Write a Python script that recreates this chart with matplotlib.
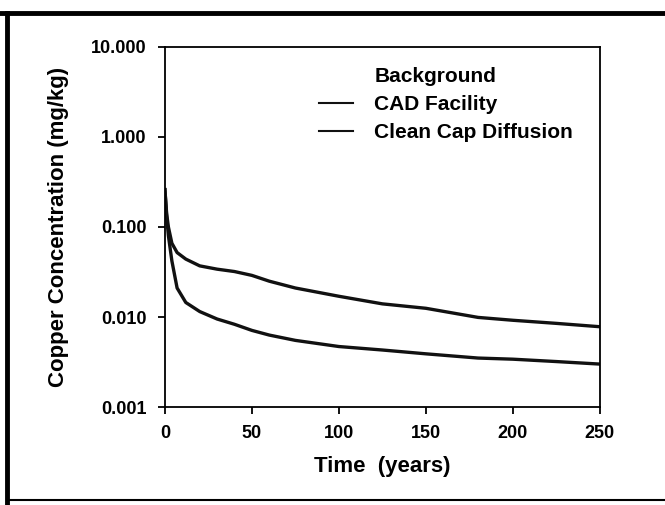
import matplotlib
matplotlib.use("Agg")
import matplotlib.pyplot as plt
from matplotlib.lines import Line2D
from matplotlib.ticker import FixedLocator, NullLocator, FormatStrFormatter

plt.rcParams['font.family'] = ['Liberation Sans', 'DejaVu Sans']

# values
years = [0, 1, 2, 4, 7, 12, 20, 30, 40, 50, 60, 75, 100, 125, 150, 180, 200, 225, 250]
cad_facility = [0.26, 0.14, 0.10, 0.066, 0.052, 0.044, 0.037, 0.034, 0.032, 0.029,
                0.025, 0.021, 0.017, 0.014, 0.0125, 0.0099, 0.0092, 0.0085, 0.0078]
clean_cap = [0.26, 0.13, 0.08, 0.042, 0.021, 0.0145, 0.0115, 0.0095, 0.0083, 0.0071,
             0.0063, 0.0055, 0.0047, 0.0043, 0.0039, 0.0035, 0.0034, 0.0032, 0.0030]
x_ticks = [0, 50, 100, 150, 200, 250]
y_ticks = [0.001, 0.01, 0.1, 1, 10]
legend_labels = ['Background', 'CAD Facility', 'Clean Cap Diffusion']

fig = plt.figure(figsize=(6.65, 5.05), dpi=100)
ax = fig.add_axes([0.248, 0.194, 0.654, 0.713])

ax.plot(years, cad_facility, color='#111111', lw=2.4)
ax.plot(years, clean_cap, color='#111111', lw=2.4)

ax.set_yscale('log')
ax.set_ylim(0.001, 10)
ax.set_xlim(0, 250)
ax.yaxis.set_major_locator(FixedLocator(y_ticks))
ax.yaxis.set_minor_locator(NullLocator())
ax.yaxis.set_major_formatter(FormatStrFormatter('%.3f'))
ax.set_xticks(x_ticks)

for s in ax.spines.values():
    s.set_linewidth(1.3)
ax.tick_params(direction='out', length=5, width=1.3, labelsize=13, pad=8)
for lab in ax.get_xticklabels() + ax.get_yticklabels():
    lab.set_fontweight('bold')

ax.set_xlabel('Time  (years)', fontsize=16, fontweight='bold', labelpad=10)
ax.set_ylabel('Copper Concentration (mg/kg)', fontsize=16, fontweight='bold', labelpad=16)

handles = [Line2D([], [], color='none'),
           Line2D([], [], color='#111111', lw=1.5),
           Line2D([], [], color='#111111', lw=1.5)]
fig.legend(handles, legend_labels, loc='upper left', bbox_to_anchor=(0.48, 0.868),
           bbox_transform=fig.transFigure, frameon=False, borderpad=0, borderaxespad=0,
           handlelength=1.6, handletextpad=1.05, labelspacing=0.45,
           prop={'weight': 'bold', 'size': 15})

# thick outer frame from the scanned page
fig.add_artist(Line2D([0.0, 1.0], [0.975, 0.975], color='black', lw=3.5, transform=fig.transFigure))
fig.add_artist(Line2D([0.011, 0.011], [0.0, 0.975], color='black', lw=3.5, transform=fig.transFigure))
fig.add_artist(Line2D([0.011, 1.0], [0.01, 0.01], color='black', lw=1.5, transform=fig.transFigure))

fig.savefig('out.png', dpi=100)
